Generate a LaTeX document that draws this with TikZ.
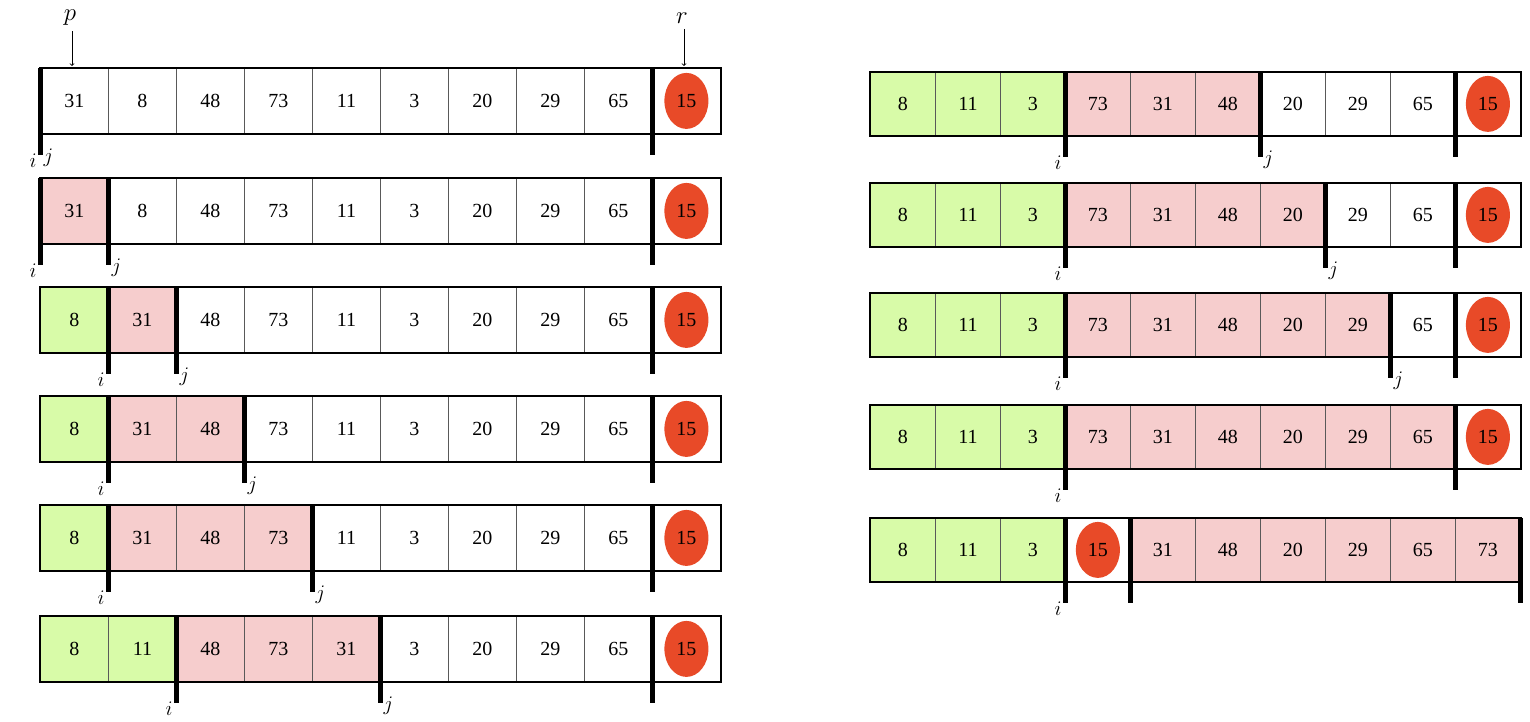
\documentclass[tikz,border=0pt]{standalone}
\usepackage{fontspec}
\setmainfont{Liberation Serif}
\usetikzlibrary{shapes.geometric}
\definecolor{pivred}{HTML}{E84A28}
\definecolor{cgreen}{HTML}{D8FBA8}
\definecolor{cpink}{HTML}{F6CDCD}
\def\VV{V}
\begin{document}
\begin{tikzpicture}[x=1pt,y=-1pt,
  cell/.style={draw=gray!70!black,line width=0.8pt,minimum width=\cw pt,minimum height=\ch pt,inner sep=0pt,anchor=north west,font=\fontsize{20}{24}\selectfont},
  W/.style={fill=white},
  G/.style={fill=cgreen},
  P/.style={fill=cpink},
  piv/.style={ellipse,fill=pivred,minimum width=44pt,minimum height=56pt,inner sep=0pt,font=\fontsize{20}{24}\selectfont},
  bar/.style={line width=5pt},
  lab/.style={font=\fontsize{22}{24}\selectfont\itshape},
  outer/.style={draw=black,line width=1.6pt}]
\useasboundingbox (0,0) rectangle (1530,722);
\newcommand{\myrow}[6]{%
  \def\cw{#4}\def\ch{#5}%
  \foreach \v/\s [count=\k from 0] in {#6}{%
    \ifx\s\VV
      \node[cell,fill=white] (#1-\k) at ({#2+\k*#4},#3) {};
      \node[piv] (#1-p) at (#1-\k.center) {\v};
    \else
      \node[cell,\s] (#1-\k) at ({#2+\k*#4},#3) {\v};
    \fi
  }%
  \draw[outer] (#1-0.north west) rectangle (#1-9.south east);
}
\newcommand{\mybar}[4]{%
  \coordinate (#1t) at (#2,#3); \coordinate (#1b) at (#2,#3+#4+22);
  \draw[bar] (#1t) -- (#1b);}
% ---------- left column
\myrow{L1}{40}{68}{68}{65}{31/W,8/W,48/W,73/W,11/W,3/W,20/W,29/W,65/W,15/V}
\myrow{L2}{40}{178}{68}{65}{31/P,8/W,48/W,73/W,11/W,3/W,20/W,29/W,65/W,15/V}
\myrow{L3}{40}{287}{68}{65}{8/G,31/P,48/W,73/W,11/W,3/W,20/W,29/W,65/W,15/V}
\myrow{L4}{40}{396}{68}{65}{8/G,31/P,48/P,73/W,11/W,3/W,20/W,29/W,65/W,15/V}
\myrow{L5}{40}{505}{68}{65}{8/G,31/P,48/P,73/P,11/W,3/W,20/W,29/W,65/W,15/V}
\myrow{L6}{40}{616}{68}{65}{8/G,11/G,48/P,73/P,31/P,3/W,20/W,29/W,65/W,15/V}
% ---------- right column
\myrow{R1}{870}{72}{65}{63}{8/G,11/G,3/G,73/P,31/P,48/P,20/W,29/W,65/W,15/V}
\myrow{R2}{870}{183}{65}{63}{8/G,11/G,3/G,73/P,31/P,48/P,20/P,29/W,65/W,15/V}
\myrow{R3}{870}{293}{65}{63}{8/G,11/G,3/G,73/P,31/P,48/P,20/P,29/P,65/W,15/V}
\myrow{R4}{870}{405}{65}{63}{8/G,11/G,3/G,73/P,31/P,48/P,20/P,29/P,65/P,15/V}
\myrow{R5}{870}{518}{65}{63}{8/G,11/G,3/G,15/V,31/P,48/P,20/P,29/P,65/P,73/P}
% ---------- bars and labels, left
\foreach \y/\a/\b/\n in {68/0/0/1,178/0/1/2,287/1/2/3,396/1/3/4,505/1/4/5,616/2/5/6}{
  \mybar{Li\n}{40+\a*68}{\y}{65}
  \mybar{Lj\n}{40+\b*68}{\y}{65}
  \mybar{Lr\n}{652}{\y}{65}
  \node[lab,anchor=east] (li\n) at ([yshift=-6pt]Li\n b) {$i$};
  \node[lab,anchor=west] (lj\n) at ([yshift=-3pt]Lj\n b) {$j$};
}
% ---------- bars and labels, right
\foreach \y/\b/\n in {72/6/1,183/7/2,293/8/3}{
  \mybar{Ri\n}{1065}{\y}{63}
  \mybar{Rj\n}{870+\b*65}{\y}{63}
  \mybar{Rr\n}{1455}{\y}{63}
  \node[lab,anchor=east] (ri\n) at ([yshift=-6pt]Ri\n b) {$i$};
  \node[lab,anchor=west] (rj\n) at ([yshift=-3pt]Rj\n b) {$j$};
}
\mybar{Ri4}{1065}{405}{63}
\mybar{Rr4}{1455}{405}{63}
\node[lab,anchor=east] (ri4) at ([yshift=-6pt]Ri4b) {$i$};
\mybar{Ri5}{1065}{518}{63}
\mybar{Rj5}{1130}{518}{63}
\mybar{Rr5}{1520}{518}{63}
\node[lab,anchor=east] (ri5) at ([yshift=-6pt]Ri5b) {$i$};
% p and r
\node[font=\fontsize{26}{28}\selectfont] (p) at (70,18) {$p$};
\node[font=\fontsize{26}{28}\selectfont] (r) at (682,18) {$r$};
\coordinate (pt) at (72,66); \coordinate (rt) at (684,66);
\draw[->,line width=0.8pt] ([xshift=2pt,yshift=-2pt]p.south) -- (pt);
\draw[->,line width=0.8pt] ([xshift=2pt,yshift=-2pt]r.south) -- (rt);
\end{tikzpicture}
\end{document}
